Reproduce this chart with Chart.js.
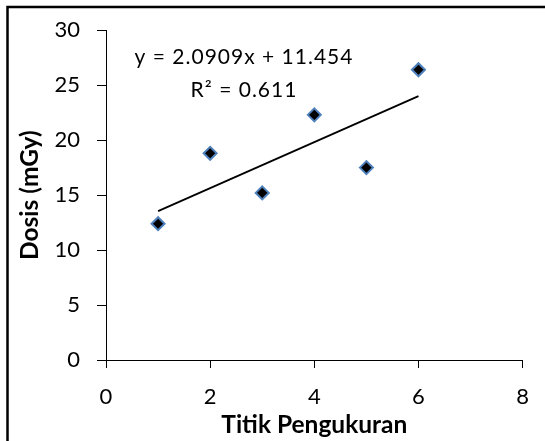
<!DOCTYPE html>
<html>
<head>
<meta charset="utf-8">
<script src="https://cdn.jsdelivr.net/npm/chart.js@4"></script>
<style>
  html, body { margin: 0; padding: 0; background: #fff; }
  #wrap { width: 545px; height: 441px; }
</style>
</head>
<body>
<div id="wrap"><canvas id="chart" width="545" height="441"></canvas></div>
<script>
// Measurement points and measured dose
const measurementPoints = [1, 2, 3, 4, 5, 6];
const doseValues = [12.4, 18.8, 15.2, 22.3, 17.5, 26.4];

// Linear trend line fitted to the doses
const trendSlope = 2.0909;
const trendIntercept = 11.454;
const trendR2 = 0.611;
const trendRange = [1, 6];

// Axis ranges and tick steps
const xRange = [0, 8];
const xStep = 2;
const yRange = [0, 30];
const yStep = 5;

const xTitle = 'Titik Pengukuran';
const yTitle = 'Dosis (mGy)';
const equationText = 'y = ' + trendSlope.toFixed(4) + 'x + ' + trendIntercept.toFixed(3);
const r2Text = 'R\u00B2 = ' + trendR2.toFixed(3);

const FONT = 'Lato';

const scatterPoints = measurementPoints.map((x, i) => ({ x: x, y: doseValues[i] }));
const trendPoints = trendRange.map(x => ({ x: x, y: trendSlope * x + trendIntercept }));

// Frame around the chart
const framePlugin = {
  id: 'frame',
  beforeDraw(chart) {
    const ctx = chart.ctx;
    ctx.save();
    ctx.fillStyle = '#fff';
    ctx.fillRect(0, 0, chart.width, chart.height);
    ctx.strokeStyle = '#000';
    ctx.lineWidth = 2.5;
    ctx.beginPath();
    ctx.moveTo(7.5, chart.height + 2);
    ctx.lineTo(7.5, 7);
    ctx.lineTo(chart.width + 2, 7);
    ctx.stroke();
    ctx.restore();
  }
};

// Trend line equation and R-squared label
const equationPlugin = {
  id: 'equation',
  afterDatasetsDraw(chart) {
    const ctx = chart.ctx;
    const xs = chart.scales.x, ys = chart.scales.y;
    const cx = xs.getPixelForValue(2.65);
    ctx.save();
    ctx.fillStyle = '#000';
    ctx.font = '21px ' + FONT;
    ctx.textAlign = 'center';
    ctx.textBaseline = 'alphabetic';
    if ('letterSpacing' in ctx) ctx.letterSpacing = '1px';
    ctx.fillText(equationText, cx, ys.getPixelForValue(26.95));
    ctx.fillText(r2Text, cx, ys.getPixelForValue(23.95));
    ctx.restore();
  }
};

new Chart(document.getElementById('chart'), {
  type: 'scatter',
  data: {
    datasets: [
      {
        label: 'Dosis',
        data: scatterPoints,
        pointStyle: 'rectRot',
        pointRadius: 6.5,
        pointHoverRadius: 6.5,
        pointBackgroundColor: '#000',
        pointBorderColor: '#4F81BD',
        pointBorderWidth: 2,
        order: 1
      },
      {
        label: 'Linear',
        type: 'line',
        data: trendPoints,
        borderColor: '#000',
        borderWidth: 1.75,
        pointRadius: 0,
        fill: false,
        order: 2
      }
    ]
  },
  plugins: [framePlugin, equationPlugin],
  options: {
    responsive: false,
    animation: false,
    devicePixelRatio: 1,
    layout: { padding: { left: 0, top: 29, right: 22, bottom: 0 } },
    plugins: {
      legend: { display: false },
      tooltip: { enabled: false }
    },
    scales: {
      x: {
        type: 'linear',
        min: xRange[0],
        max: xRange[1],
        afterFit(scale) { scale.height = 81; },
        ticks: {
          stepSize: xStep,
          color: '#000',
          padding: 16,
          maxRotation: 0,
          font: { family: FONT, size: 22 }
        },
        grid: {
          drawOnChartArea: false,
          drawTicks: true,
          tickLength: 8,
          tickColor: '#000',
          tickWidth: 1
        },
        border: { color: '#000', width: 1 },
        title: {
          display: true,
          text: xTitle,
          color: '#000',
          font: { family: FONT, size: 24.5, weight: 'bold' },
          padding: { top: 0, bottom: 1 }
        }
      },
      y: {
        type: 'linear',
        min: yRange[0],
        max: yRange[1],
        afterFit(scale) { scale.width = 106; },
        ticks: {
          stepSize: yStep,
          color: '#000',
          padding: 17,
          font: { family: FONT, size: 22 }
        },
        grid: {
          drawOnChartArea: false,
          drawTicks: true,
          tickLength: 9,
          tickColor: '#000',
          tickWidth: 1
        },
        border: { color: '#000', width: 1 },
        title: {
          display: true,
          text: yTitle,
          color: '#000',
          font: { family: FONT, size: 24.5, weight: 'bold' },
          padding: { top: 15, bottom: 0 }
        }
      }
    }
  }
});
</script>
</body>
</html>
